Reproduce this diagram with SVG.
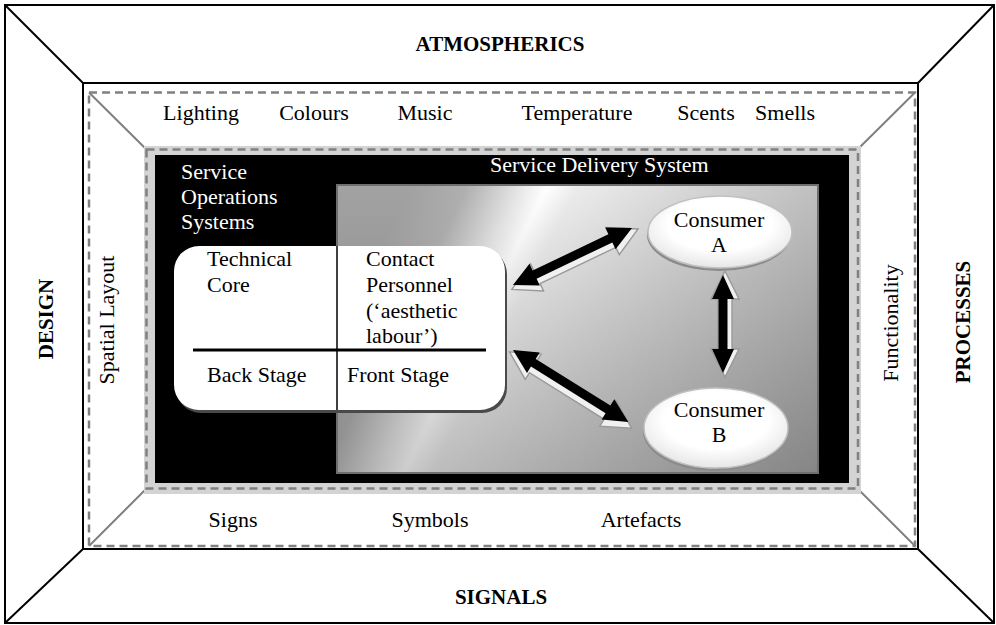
<svg xmlns="http://www.w3.org/2000/svg" width="996" height="625" viewBox="0 0 996 625">
  <style>
    .t { font-family: "Liberation Serif", "Times New Roman", serif; font-size: 22px; fill: #000; }
    .w { fill: #fff; }
    .b { font-weight: bold; font-size: 21px; }
    .frame { fill: none; stroke: #000; stroke-width: 2; }
    .gdiag { stroke: #808080; stroke-width: 2; fill: none; }
    .dash { fill: none; stroke: #808080; stroke-width: 2.5; stroke-dasharray: 8 5; }
    .arr-back { fill: #f0f0f0; stroke: #999; stroke-width: 1.4; stroke-linejoin: miter; }
    .arr-fill { fill: #000; }
  </style>
  <defs>
    <!-- diagonal sheen across the delivery panel -->
    <linearGradient id="sdsGrad" gradientUnits="userSpaceOnUse" x1="380" y1="250" x2="820" y2="472">
      <stop offset="0" stop-color="#a2a2a2"/>
      <stop offset="0.1" stop-color="#b0b0b0"/>
      <stop offset="0.2" stop-color="#e8e8e8"/>
      <stop offset="0.245" stop-color="#ffffff"/>
      <stop offset="0.3" stop-color="#ececec"/>
      <stop offset="0.55" stop-color="#d2d2d2"/>
      <stop offset="1" stop-color="#a6a6a6"/>
    </linearGradient>
    <!-- darkens the lower part of the panel -->
    <linearGradient id="sdsShade" x1="0" y1="0" x2="0" y2="1">
      <stop offset="0" stop-color="#000" stop-opacity="0"/>
      <stop offset="1" stop-color="#000" stop-opacity="0.2"/>
    </linearGradient>
    <radialGradient id="ovalGrad" cx="0.5" cy="0.4" r="0.6">
      <stop offset="0.6" stop-color="#ffffff"/>
      <stop offset="1" stop-color="#e6e6e6"/>
    </radialGradient>
  </defs>

  <!-- outer frame with perspective corners -->
  <g id="frame">
    <rect class="frame" x="5" y="5" width="989" height="618"/>
    <rect class="frame" x="83" y="83" width="835" height="466"/>
    <line class="frame" x1="5" y1="5" x2="83" y2="83"/>
    <line class="frame" x1="994" y1="5" x2="918" y2="83"/>
    <line class="frame" x1="5" y1="623" x2="83" y2="549"/>
    <line class="frame" x1="994" y1="623" x2="918" y2="549"/>
  </g>

  <!-- servicescape dashed frame -->
  <g id="servicescape">
    <rect class="dash" x="89" y="92.5" width="826" height="453.5"/>
    <line class="gdiag" x1="89" y1="92.5" x2="146" y2="149"/>
    <line class="gdiag" x1="915" y1="92.5" x2="858" y2="149"/>
    <line class="gdiag" x1="89" y1="546" x2="146" y2="489"/>
    <line class="gdiag" x1="915" y1="546" x2="858" y2="489"/>
  </g>

  <!-- frame labels -->
  <g id="labels">
    <text class="t b" x="500" y="51" text-anchor="middle">ATMOSPHERICS</text>
    <text class="t b" x="501" y="604" text-anchor="middle">SIGNALS</text>
    <text class="t b" transform="translate(53,319) rotate(-90)" text-anchor="middle">DESIGN</text>
    <text class="t b" transform="translate(970,322) rotate(-90)" text-anchor="middle">PROCESSES</text>

    <text class="t" x="201" y="120" text-anchor="middle">Lighting</text>
    <text class="t" x="314" y="120" text-anchor="middle">Colours</text>
    <text class="t" x="425" y="120" text-anchor="middle">Music</text>
    <text class="t" x="577" y="120" text-anchor="middle">Temperature</text>
    <text class="t" x="706" y="120" text-anchor="middle">Scents</text>
    <text class="t" x="785" y="120" text-anchor="middle">Smells</text>

    <text class="t" x="233" y="527" text-anchor="middle">Signs</text>
    <text class="t" x="430" y="527" text-anchor="middle">Symbols</text>
    <text class="t" x="641" y="527" text-anchor="middle">Artefacts</text>

    <text class="t" transform="translate(114,320) rotate(-90)" text-anchor="middle">Spatial Layout</text>
    <text class="t" transform="translate(898,323) rotate(-90)" text-anchor="middle">Functionality</text>
  </g>

  <!-- service operations system (black panel) -->
  <g id="operations">
    <rect x="144" y="146" width="717" height="348" fill="#d3d3d3"/>
    <rect x="155" y="155" width="694" height="328" fill="#000"/>
    <rect class="dash" x="146.5" y="149.5" width="711.5" height="339"/>
    <text class="t w" x="181" y="179">Service</text>
    <text class="t w" x="181" y="204">Operations</text>
    <text class="t w" x="181" y="229">Systems</text>
  </g>

  <!-- service delivery system (graded panel) -->
  <g id="delivery">
    <rect x="337" y="185" width="481" height="288" fill="url(#sdsGrad)"/>
    <rect x="337" y="185" width="481" height="288" fill="url(#sdsShade)" stroke="#6e6e6e" stroke-width="2"/>
    <text class="t w" x="490" y="172">Service Delivery System</text>
  </g>

  <!-- technical core / contact personnel box -->
  <g id="core">
    <rect x="176" y="249" width="331" height="164" rx="25" fill="#4a4a4a"/>
    <rect x="174" y="246" width="331" height="164" rx="25" fill="#fff"/>
    <line x1="337" y1="246" x2="337" y2="410" stroke="#000" stroke-width="1.5"/>
    <line x1="193" y1="350" x2="486" y2="350" stroke="#000" stroke-width="3"/>
    <text class="t" x="207" y="266">Technical</text>
    <text class="t" x="207" y="292">Core</text>
    <text class="t" x="366" y="266">Contact</text>
    <text class="t" x="366" y="292">Personnel</text>
    <text class="t" x="366" y="318">(‘aesthetic</text>
    <text class="t" x="366" y="343">labour’)</text>
    <text class="t" x="207" y="382">Back Stage</text>
    <text class="t" x="347" y="382">Front Stage</text>
  </g>

  <!-- consumers -->
  <g id="consumerA">
    <ellipse cx="719" cy="235" rx="72" ry="36" fill="#8a8a8a"/>
    <ellipse cx="720" cy="232" rx="72" ry="36" fill="url(#ovalGrad)" stroke="#c0c0c0" stroke-width="1.5"/>
    <text class="t" x="719" y="227" text-anchor="middle">Consumer</text>
    <text class="t" x="719" y="252" text-anchor="middle">A</text>
  </g>
  <g id="consumerB">
    <ellipse cx="715" cy="431" rx="72" ry="40" fill="#8a8a8a"/>
    <ellipse cx="716" cy="428" rx="72" ry="40" fill="url(#ovalGrad)" stroke="#c0c0c0" stroke-width="1.5"/>
    <text class="t" x="719" y="417" text-anchor="middle">Consumer</text>
    <text class="t" x="719" y="442" text-anchor="middle">B</text>
  </g>

  <!-- two-way interaction arrows -->
  <g id="connectors">
    <!-- contact personnel <-> consumer A -->
    <g transform="translate(513,285) rotate(-25.6)">
      <polygon class="arr-back" transform="translate(1,3.5)" points="-4,0 24,-15 24,-7 108,-7 108,-15 136,0 108,15 108,7 24,7 24,15"/>
      <polygon class="arr-fill" points="0,0 24,-12 24,-4.5 108,-4.5 108,-12 132,0 108,12 108,4.5 24,4.5 24,12"/>
    </g>
    <!-- contact personnel <-> consumer B -->
    <g transform="translate(513,350) rotate(32)">
      <polygon class="arr-back" transform="translate(2,3.5)" points="-4,0 24,-15 24,-7 112,-7 112,-15 140,0 112,15 112,7 24,7 24,15"/>
      <polygon class="arr-fill" points="0,0 24,-12 24,-4.5 112,-4.5 112,-12 136,0 112,12 112,4.5 24,4.5 24,12"/>
    </g>
    <!-- consumer A <-> consumer B -->
    <g transform="translate(723,275) rotate(90)">
      <polygon class="arr-back" transform="translate(0,-2)" points="-4,0 24,-14 24,-7 74,-7 74,-14 102,0 74,14 74,7 24,7 24,14"/>
      <polygon class="arr-fill" points="0,0 24,-11 24,-4.5 74,-4.5 74,-11 98,0 74,11 74,4.5 24,4.5 24,11"/>
    </g>
  </g>
</svg>
